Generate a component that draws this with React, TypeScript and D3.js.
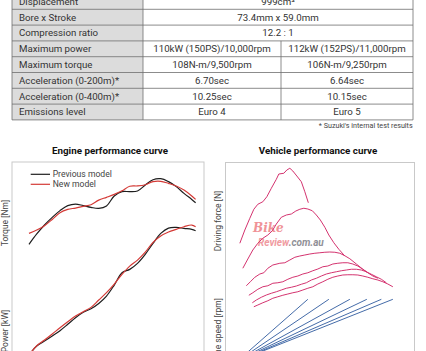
import * as d3 from "d3";

// ── Spec table ────────────────────────────────────────────────
const SPEC_LABELS = [
  "Displacement",
  "Bore x Stroke",
  "Compression ratio",
  "Maximum power",
  "Maximum torque",
  "Acceleration (0-200m)*",
  "Acceleration (0-400m)*",
  "Emissions level",
];
const PREV_VALUES = [
  "999cm³",
  "73.4mm x 59.0mm",
  "12.2 : 1",
  "110kW (150PS)/10,000rpm",
  "108N-m/9,500rpm",
  "6.70sec",
  "10.25sec",
  "Euro 4",
];
const NEW_VALUES: (string | null)[] = [
  null,
  null,
  null,
  "112kW (152PS)/11,000rpm",
  "106N-m/9,250rpm",
  "6.64sec",
  "10.15sec",
  "Euro 5",
];
const FOOTNOTE = "* Suzuki's internal test results";

// ── Engine performance curve (rpm, Nm, kW) ────────────────────
const RPM = [
  1000, 1500, 2000, 2500, 3000, 3500, 4000, 4500, 5000, 5500, 6000, 6500,
  7000, 7500, 8000, 8500, 9000, 9500, 10000, 10500, 11000, 11500, 11750,
];
const TORQUE_PREV = [
  70, 76, 81.2, 85.6, 89.5, 92.4, 93.3, 92.4, 91.4, 90.8, 92.2, 98, 100.5,
  100.5, 100.9, 104.3, 107.4, 108, 106.3, 103.4, 99.5, 96, 94.1,
];
const TORQUE_NEW = [
  76.3, 78.3, 80.8, 84.4, 88.3, 90.2, 91, 92, 92.9, 95.6, 97.2, 98.9, 101,
  103.6, 103.8, 104.5, 106.3, 106.5, 105.3, 103.8, 101.4, 98, 96,
];
const POWER_PREV = [
  -3, 5, 9.4, 13.9, 18.6, 24.2, 30, 34.8, 38, 42.7, 49.2, 58.9, 69.8, 72.8,
  78.1, 86.1, 95.8, 104.6, 109.3, 109.9, 109, 108.2, 107,
];
const POWER_NEW = [
  -3, 5.3, 10.3, 15.6, 21.2, 26.5, 31.5, 35.4, 39.2, 45.7, 52.2, 59.8, 68.4,
  75.7, 81, 88.1, 96.7, 102.3, 105.8, 108.2, 110.5, 112, 110.5,
];

// ── Vehicle performance curve (km/h, N) ───────────────────────
const GEAR1: [number, number][] = [
  [5, 3070], [15, 3600], [25, 4070], [33, 4430], [41, 4630], [51, 4730],
  [59, 4930], [68, 5270], [78, 5630], [83, 5840], [93, 5870], [99, 6000],
  [105, 6070], [111, 5960], [119, 5760], [128, 5530], [135, 5130], [142, 4690],
];
const GEAR2: [number, number][] = [
  [11, 2070], [21, 2440], [31, 2800], [41, 3070], [51, 3270], [61, 3400],
  [70, 3570], [78, 3840], [88, 4110], [98, 4200], [108, 4240], [117, 4360],
  [125, 4430], [133, 4470], [141, 4440], [150, 4370], [158, 4200], [166, 4000],
  [175, 3710], [183, 3400], [193, 3090], [203, 2830], [215, 2560],
];
const GEAR3: [number, number][] = [
  [18, 1370], [26, 1530], [35, 1710], [45, 1840], [53, 1890], [61, 2070],
  [71, 2200], [85, 2270], [95, 2290], [105, 2400], [115, 2510], [125, 2560],
  [135, 2600], [145, 2640], [155, 2670], [165, 2690], [175, 2710], [185, 2720],
  [195, 2710], [205, 2670], [215, 2570], [225, 2450], [238, 2240], [251, 2030],
  [261, 1890],
];
const GEAR4: [number, number][] = [
  [23, 990], [31, 1090], [41, 1230], [51, 1330], [61, 1370], [71, 1470],
  [81, 1490], [91, 1530], [101, 1630], [111, 1710], [121, 1760], [131, 1840],
  [141, 1890], [151, 1970], [161, 2040], [171, 2130], [181, 2160], [191, 2240],
  [201, 2270], [211, 2290], [221, 2290], [231, 2240], [241, 2160], [251, 2030],
  [261, 1890], [271, 1760], [281, 1670],
];
const GEAR5: [number, number][] = [
  [30, 690], [38, 800], [48, 910], [58, 1000], [68, 1070], [78, 1130],
  [88, 1200], [98, 1270], [108, 1310], [118, 1360], [128, 1430], [138, 1490],
  [148, 1600], [158, 1670], [168, 1760], [178, 1840], [188, 1890], [198, 1930],
  [208, 1970], [218, 2000], [228, 2030], [238, 2030], [248, 2000], [258, 1930],
  [268, 1830], [278, 1730], [288, 1630], [298, 1490],
];
const GEAR6: [number, number][] = [
  [33, 530], [41, 600], [51, 690], [61, 770], [71, 870], [81, 930],
  [91, 990], [101, 1040], [111, 1090], [121, 1130], [131, 1200], [141, 1270],
  [151, 1330], [161, 1440], [171, 1530], [181, 1630], [191, 1710], [201, 1760],
  [211, 1800], [221, 1810], [231, 1810], [241, 1800], [251, 1760], [261, 1710],
  [271, 1650], [281, 1600], [291, 1530], [301, 1440], [311, 1330],
];
const GEAR_TOP_SPEEDS = [141, 183, 225, 259, 288, 311];
const REDLINE_RPM = 13000;

// ── Geometry ──────────────────────────────────────────────────
const W = 426;
const H = 351;
const TEXT = "#333";
const FONT = "Roboto, 'DejaVu Sans', sans-serif";
const BLACK = "#1e1e1e";
const RED = "#d43a36";
const PINK = "#d4336f";
const BLUE = "#2f5a9e";

const TBL = { left: 12, right: 413, labelCol: 143, split: 281, top: -6.5, rowH: 15.8 };

export default function App() {
  const rowY = d3
    .scaleLinear()
    .domain([0, SPEC_LABELS.length])
    .range([TBL.top, TBL.top + TBL.rowH * SPEC_LABELS.length]);
  const tableBottom = rowY(SPEC_LABELS.length);

  // engine chart scales
  const ex = d3.scaleLinear().domain([1000, 12000]).range([29, 199.5]);
  const eyT = d3.scaleLinear().domain([70, 108]).range([244.3, 178.7]);
  const eyP = d3.scaleLinear().domain([0, 110]).range([351.7, 227.3]);

  const torqueLine = (vals: number[]) =>
    d3
      .line<number>()
      .x((_, i) => ex(RPM[i]))
      .y((d) => eyT(d))
      .curve(d3.curveCatmullRom.alpha(0.5))(vals) as string;
  const powerLine = (vals: number[]) =>
    d3
      .line<number>()
      .x((_, i) => ex(RPM[i]))
      .y((d) => eyP(d))
      .curve(d3.curveCatmullRom.alpha(0.5))(vals) as string;

  // vehicle chart scales
  const vx = d3.scaleLinear().domain([0, 300]).range([237.33, 387.33]);
  const vyF = d3.scaleLinear().domain([0, 7000]).range([320, 145]);
  const vyR = d3.scaleLinear().domain([0, REDLINE_RPM]).range([361.2, 299.3]);
  const forceLine = d3
    .line<[number, number]>()
    .x((d) => vx(d[0]))
    .y((d) => vyF(d[1]));
  const gears = [GEAR1, GEAR2, GEAR3, GEAR4, GEAR5, GEAR6];

  return (
    <svg
      width={W}
      height={H}
      style={{ position: "absolute", left: 0, top: 0, background: "#fff" }}
      fontFamily={FONT}
    >
      {/* ── Table ─────────────────────────────────────────── */}
      <rect x={TBL.left} y={TBL.top} width={TBL.labelCol - TBL.left}
        height={tableBottom - TBL.top} fill="#dcdcdc" />
      {SPEC_LABELS.map((_, i) => (
        <line key={`rl-${i}`} x1={TBL.left} x2={TBL.right}
          y1={rowY(i + 1)} y2={rowY(i + 1)} stroke="#6f6f6f" strokeWidth={0.8} />
      ))}
      <line x1={TBL.left} x2={TBL.left} y1={TBL.top} y2={tableBottom} stroke="#6f6f6f" strokeWidth={0.8} />
      <line x1={TBL.right} x2={TBL.right} y1={TBL.top} y2={tableBottom} stroke="#6f6f6f" strokeWidth={0.8} />
      <line x1={TBL.labelCol} x2={TBL.labelCol} y1={TBL.top} y2={tableBottom} stroke="#6f6f6f" strokeWidth={0.8} />
      <line x1={TBL.split} x2={TBL.split} y1={rowY(3)} y2={tableBottom} stroke="#6f6f6f" strokeWidth={0.8} />
      {SPEC_LABELS.map((label, i) => {
        const cy = rowY(i) + TBL.rowH / 2 + 3.4;
        const merged = NEW_VALUES[i] === null;
        return (
          <g key={`row-${i}`} fontSize={9.7} fill={TEXT}>
            <text x={19} y={cy}>{label}</text>
            <text x={merged ? (TBL.labelCol + TBL.right) / 2 : (TBL.labelCol + TBL.split) / 2}
              y={cy} textAnchor="middle">{PREV_VALUES[i]}</text>
            {!merged && (
              <text x={(TBL.split + TBL.right) / 2} y={cy} textAnchor="middle">
                {NEW_VALUES[i]}
              </text>
            )}
          </g>
        );
      })}
      <text x={412.7} y={128.3} textAnchor="end" fontSize={7.2} fill="#444">{FOOTNOTE}</text>

      {/* ── Engine performance curve ─────────────────────── */}
      <text x={110} y={153.5} textAnchor="middle" fontSize={9.8} fontWeight="bold" fill="#111">
        Engine performance curve
      </text>
      <rect x={12} y={162} width={192} height={200} fill="none" stroke="#c9c9c9" strokeWidth={1} />
      <text transform={`translate(7.5,223) rotate(-90)`} textAnchor="middle" fontSize={8.5} fill="#444">
        Torque [Nm]
      </text>
      <text transform={`translate(7.5,331) rotate(-90)`} textAnchor="middle" fontSize={8.5} fill="#444">
        Power [kW]
      </text>
      <line x1={30.7} x2={50} y1={174.3} y2={174.3} stroke={BLACK} strokeWidth={1.2} />
      <text x={52.7} y={177.3} fontSize={8.6} fill="#444">Previous model</text>
      <line x1={30.7} x2={50} y1={184.3} y2={184.3} stroke={RED} strokeWidth={1.2} />
      <text x={52.7} y={187.3} fontSize={8.6} fill="#444">New model</text>
      <path d={torqueLine(TORQUE_PREV)} fill="none" stroke={BLACK} strokeWidth={1.2} />
      <path d={torqueLine(TORQUE_NEW)} fill="none" stroke={RED} strokeWidth={1.2} />
      <path d={powerLine(POWER_PREV)} fill="none" stroke={BLACK} strokeWidth={1.2} />
      <path d={powerLine(POWER_NEW)} fill="none" stroke={RED} strokeWidth={1.2} />

      {/* ── Vehicle performance curve ────────────────────── */}
      <text x={318} y={154} textAnchor="middle" fontSize={9.8} fontWeight="bold" fill="#111">
        Vehicle performance curve
      </text>
      <rect x={225.5} y={162.5} width={189} height={200} fill="none" stroke="#c9c9c9" strokeWidth={1} />
      <text transform={`translate(220.5,221) rotate(-90)`} textAnchor="middle" fontSize={8.5} fill="#444">
        Driving force [N]
      </text>
      <text transform={`translate(220.5,298) rotate(-90)`} textAnchor="end" fontSize={8.5} fill="#444">
        Engine speed [rpm]
      </text>

      {/* watermark */}
      <g opacity={0.85} fontStyle="italic" fontWeight="bold">
        <text x={253} y={231.5} fontSize={12} fill="#ee7f86" fontFamily="'DejaVu Serif', serif">Bike</text>
        <text x={258} y={246} fontSize={10}>
          <tspan fill="#ee8a90">Review</tspan>
          <tspan fill="#7d7d86">.com.au</tspan>
        </text>
      </g>

      {gears.map((g, i) => (
        <path key={`f-${i}`} d={forceLine(g) as string} fill="none" stroke={PINK} strokeWidth={1} />
      ))}
      {GEAR_TOP_SPEEDS.map((v, i) => (
        <line key={`r-${i}`} x1={vx(0)} y1={vyR(0)} x2={vx(v)} y2={vyR(REDLINE_RPM)}
          stroke={BLUE} strokeWidth={0.9} />
      ))}
    </svg>
  );
}
